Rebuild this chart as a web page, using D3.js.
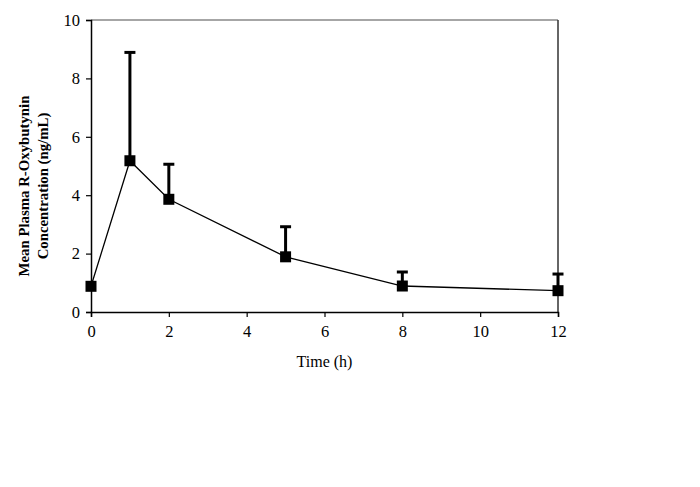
<!DOCTYPE html>
<html>
<head>
<meta charset="utf-8">
<script src="https://cdn.jsdelivr.net/npm/d3@7"></script>
<style>
  body { margin: 0; background: #fff; }
  text { font-family: "Liberation Serif", "Times New Roman", serif; }
</style>
</head>
<body>
<div id="chart"></div>
<script>
// time points (h), mean concentration and upper SD
const times = [0, 1, 2, 5, 8, 12];
const means = [0.88, 5.18, 3.86, 1.89, 0.89, 0.73];
const upper = [0.88, 8.89, 5.06, 2.92, 1.37, 1.30];
const xTicks = [0, 2, 4, 6, 8, 10, 12];
const yTicks = [0, 2, 4, 6, 8, 10];

const width = 700, height = 487;
const margin = { left: 91, right: 142, top: 20, bottom: 175 };

const svg = d3.select('#chart').append('svg')
    .attr('width', width).attr('height', height);

const x = d3.scaleLinear().domain([0, 12]).range([margin.left, width - margin.right]);
const y = d3.scaleLinear().domain([0, 10]).range([height - margin.bottom, margin.top]);

// frame: top is grey, right is dark
svg.append('line')
    .attr('x1', x(0)).attr('x2', x(12)).attr('y1', y(10)).attr('y2', y(10))
    .attr('stroke', '#888').attr('stroke-width', 1.5);
svg.append('line')
    .attr('x1', x(12)).attr('x2', x(12)).attr('y1', y(10)).attr('y2', y(0))
    .attr('stroke', '#333').attr('stroke-width', 1.5);

const xAxis = svg.append('g')
    .attr('transform', `translate(0,${y(0)})`)
    .call(d3.axisBottom(x).tickValues(xTicks).tickSize(5).tickPadding(8).tickFormat(d3.format('d')));
const yAxis = svg.append('g')
    .attr('transform', `translate(${x(0)},0)`)
    .call(d3.axisLeft(y).tickValues(yTicks).tickSize(5).tickPadding(6).tickFormat(d3.format('d')));

[xAxis, yAxis].forEach(g => {
  g.select('.domain').attr('stroke', '#000').attr('stroke-width', 1.5);
  g.selectAll('.tick line').attr('stroke', '#000').attr('stroke-width', 1.2);
  g.selectAll('.tick text')
      .attr('font-family', '"Liberation Serif", "Times New Roman", serif')
      .attr('font-size', 16.5).attr('fill', '#000');
});

// connecting line
const line = d3.line().x((d, i) => x(times[i])).y(d => y(d));
svg.append('path')
    .datum(means)
    .attr('d', line)
    .attr('fill', 'none')
    .attr('stroke', '#000')
    .attr('stroke-width', 1.3);

// error bars (upper only)
const eb = svg.append('g');
times.forEach((t, i) => {
  if (upper[i] <= means[i]) return;
  eb.append('line')
      .attr('x1', x(t)).attr('x2', x(t))
      .attr('y1', y(means[i])).attr('y2', y(upper[i]))
      .attr('stroke', '#000').attr('stroke-width', 3);
  eb.append('line')
      .attr('x1', x(t) - 5.5).attr('x2', x(t) + 5.5)
      .attr('y1', y(upper[i])).attr('y2', y(upper[i]))
      .attr('stroke', '#000').attr('stroke-width', 3);
});

// square markers
svg.append('g').selectAll('rect')
    .data(means)
    .join('rect')
    .attr('x', (d, i) => x(times[i]) - 5.5)
    .attr('y', d => y(d) - 5.5)
    .attr('width', 11).attr('height', 11)
    .attr('fill', '#000');

// axis titles
svg.append('text')
    .attr('x', (x(0) + x(12)) / 2)
    .attr('y', 367)
    .attr('text-anchor', 'middle')
    .attr('font-size', 16)
    .text('Time (h)');

const yTitle = svg.append('text')
    .attr('transform', 'translate(0,186) rotate(-90)')
    .attr('text-anchor', 'middle')
    .attr('font-size', 14.8)
    .attr('font-weight', 'bold');
yTitle.append('tspan').attr('x', 0).attr('y', 29).text('Mean Plasma R-Oxybutynin');
yTitle.append('tspan').attr('x', 0).attr('y', 48).text('Concentration (ng/mL)');
</script>
</body>
</html>
